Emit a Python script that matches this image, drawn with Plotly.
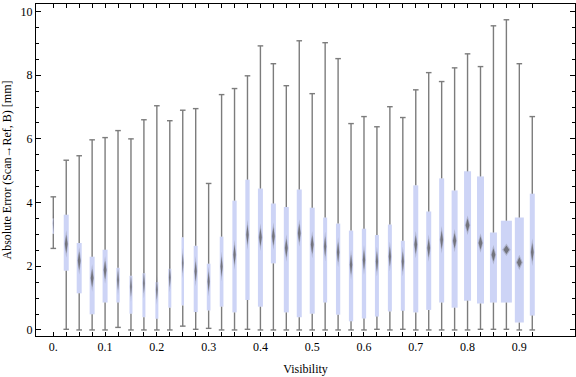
import plotly.graph_objects as go

visibility = [0.0, 0.025, 0.05, 0.075, 0.1, 0.125, 0.15, 0.175, 0.2, 0.225,
              0.25, 0.275, 0.3, 0.325, 0.35, 0.375, 0.4, 0.425, 0.45, 0.475,
              0.5, 0.525, 0.55, 0.575, 0.6, 0.625, 0.65, 0.675, 0.7, 0.725,
              0.75, 0.775, 0.8, 0.825, 0.85, 0.875, 0.9, 0.925]
whisker_low = [2.56, 0.02, 0.00, 0.00, 0.00, 0.08, 0.00, 0.00, 0.00, 0.00,
               0.12, 0.02, 0.05, 0.00, 0.00, 0.02, 0.00, 0.00, 0.00, 0.00,
               0.00, 0.00, 0.00, 0.00, 0.00, 0.02, 0.00, 0.02, 0.00, 0.00,
               0.00, 0.00, 0.00, 0.02, 0.02, 0.02, 0.00, 0.00]
q1 = [3.02, 1.86, 1.15, 0.49, 0.86, 0.86, 0.51, 0.40, 0.35, 0.70,
      0.77, 0.56, 0.61, 0.73, 0.55, 0.94, 0.73, 2.09, 0.55, 0.40,
      0.51, 0.86, 0.48, 0.27, 0.36, 0.42, 0.58, 0.60, 0.55, 0.63,
      0.86, 0.70, 0.92, 0.83, 0.86, 0.86, 0.23, 0.45]
median = [3.35, 2.70, 2.17, 1.63, 1.88, 1.57, 1.36, 1.47, 1.26, 1.65,
          2.10, 1.84, 1.52, 1.99, 2.36, 2.99, 2.91, 2.94, 2.57, 3.04,
          2.68, 2.62, 2.44, 2.05, 2.20, 2.15, 2.31, 2.15, 2.68, 2.57,
          2.83, 2.80, 3.29, 2.73, 2.36, 2.52, 2.12, 2.44]
q3 = [3.50, 3.62, 2.73, 2.30, 2.52, 1.95, 1.70, 1.78, 1.50, 1.92,
      2.91, 2.64, 2.08, 2.93, 4.06, 4.72, 4.44, 3.97, 3.86, 4.41,
      3.84, 3.53, 3.34, 3.12, 3.18, 2.98, 3.31, 2.80, 4.54, 3.72,
      4.76, 4.38, 4.98, 4.82, 3.06, 3.43, 3.53, 4.28]
whisker_high = [4.18, 5.33, 5.47, 5.97, 6.04, 6.26, 6.00, 6.60, 7.04, 6.57,
                6.90, 6.95, 4.60, 7.39, 7.58, 7.98, 8.92, 8.36, 7.67, 9.08,
                7.42, 9.02, 8.52, 6.48, 6.70, 6.38, 7.01, 6.67, 7.54, 8.08,
                7.80, 8.23, 8.67, 8.27, 9.55, 9.74, 8.36, 6.70]
# relative box widths (as drawn, in screen pixels)
box_weight = [1.5, 5, 5, 5, 5, 3.3, 3, 3, 3, 3,
              2.5, 4, 3.7, 3.7, 4.3, 4.3, 5, 5, 5, 5,
              5, 4, 4.3, 4.3, 4.3, 4, 4, 4, 5, 5,
              5, 6, 7, 7, 7, 11, 9, 5]
x_tick_labels = ["0.", "0.1", "0.2", "0.3", "0.4", "0.5", "0.6", "0.7", "0.8", "0.9"]
y_tick_values = [0, 2, 4, 6, 8, 10]

# layout geometry
W, H = 576, 377
ML, MR, MT, MB = 36, 1, 4, 41
XR = [-0.0334, 1.0075]
YR = [-0.19, 10.235]
px_x = (XR[1] - XR[0]) / (W - ML - MR)
px_y = (YR[1] - YR[0]) / (H - MT - MB)

GRAY = "#7c7c7c"
BOX = "#cdd4f6"
FONT = "Liberation Serif"

# whiskers (outside boxes)
wx, wy = [], []
for x, lo, a, b, hi in zip(visibility, whisker_low, q1, q3, whisker_high):
    wx += [x, x, None, x, x, None]
    wy += [lo, a, None, b, hi, None]

# median diamonds
def diamonds(scale):
    dx, dy = [], []
    for x, m, w in zip(visibility, median, box_weight):
        wpx = 0.62 * w * scale
        hpx = min(24, 68 / max(0.62 * w, 0.5)) * scale
        hw = wpx / 2 * px_x
        hh = hpx / 2 * px_y
        dx += [x, x + hw, x, x - hw, x, None]
        dy += [m + hh, m, m - hh, m, m + hh, None]
    return dx, dy

fig = go.Figure()
fig.add_trace(go.Scatter(x=wx, y=wy, mode="lines",
                         line=dict(color=GRAY, width=1.4), hoverinfo="skip"))
fig.add_trace(go.Scatter(x=visibility + visibility, y=whisker_low + whisker_high,
                         mode="markers",
                         marker=dict(symbol="line-ew", size=4,
                                     line=dict(color=GRAY, width=1.4)),
                         hoverinfo="skip"))
fig.add_trace(go.Bar(x=visibility, y=[b - a for a, b in zip(q1, q3)], base=q1,
                     width=[w * px_x for w in box_weight],
                     marker=dict(color=BOX, line=dict(width=0))))
ox, oy = diamonds(1.25)
fig.add_trace(go.Scatter(x=ox, y=oy, mode="lines", fill="toself",
                         fillcolor="rgba(120,120,130,0.35)", line=dict(width=0),
                         hoverinfo="skip"))
ix, iy = diamonds(0.85)
fig.add_trace(go.Scatter(x=ix, y=iy, mode="lines", fill="toself",
                         fillcolor="rgba(105,105,110,0.85)", line=dict(width=0),
                         hoverinfo="skip"))

x_ticktext = []
for v in visibility:
    k = round(v * 10, 6)
    x_ticktext.append(x_tick_labels[int(round(k))] if abs(k - round(k)) < 1e-6 else "")

fig.update_layout(
    width=W, height=H, margin=dict(l=ML, r=MR, t=MT, b=MB),
    paper_bgcolor="white", plot_bgcolor="white", showlegend=False,
    font=dict(family=FONT, size=12, color="black"),
    xaxis=dict(range=XR, tickvals=visibility, ticktext=x_ticktext,
               ticks="inside", ticklen=4, tickwidth=1, tickcolor="black",
               showline=True, linecolor="black", linewidth=1, mirror="allticks",
               showgrid=False, zeroline=False,
               tickfont=dict(family=FONT, size=12, color="black"),
               title=dict(text="Visibility", standoff=11,
                          font=dict(family=FONT, size=12, color="black"))),
    yaxis=dict(range=YR, tickvals=y_tick_values,
               ticks="inside", ticklen=5, tickwidth=1, tickcolor="black",
               minor=dict(dtick=0.5, ticks="inside", ticklen=3, tickcolor="black"),
               showline=True, linecolor="black", linewidth=1, mirror="allticks",
               showgrid=False, zeroline=False,
               tickfont=dict(family=FONT, size=12, color="black"),
               title=dict(text="Absolute Error (Scan\u2192Ref, B) [mm]", standoff=6,
                          font=dict(family=FONT, size=12, color="black"))),
)

fig.write_html("out.html",
               config={"displayModeBar": False, "staticPlot": True},
               post_script="document.body.style.margin='0px';"
                           "document.body.style.overflow='hidden';")
